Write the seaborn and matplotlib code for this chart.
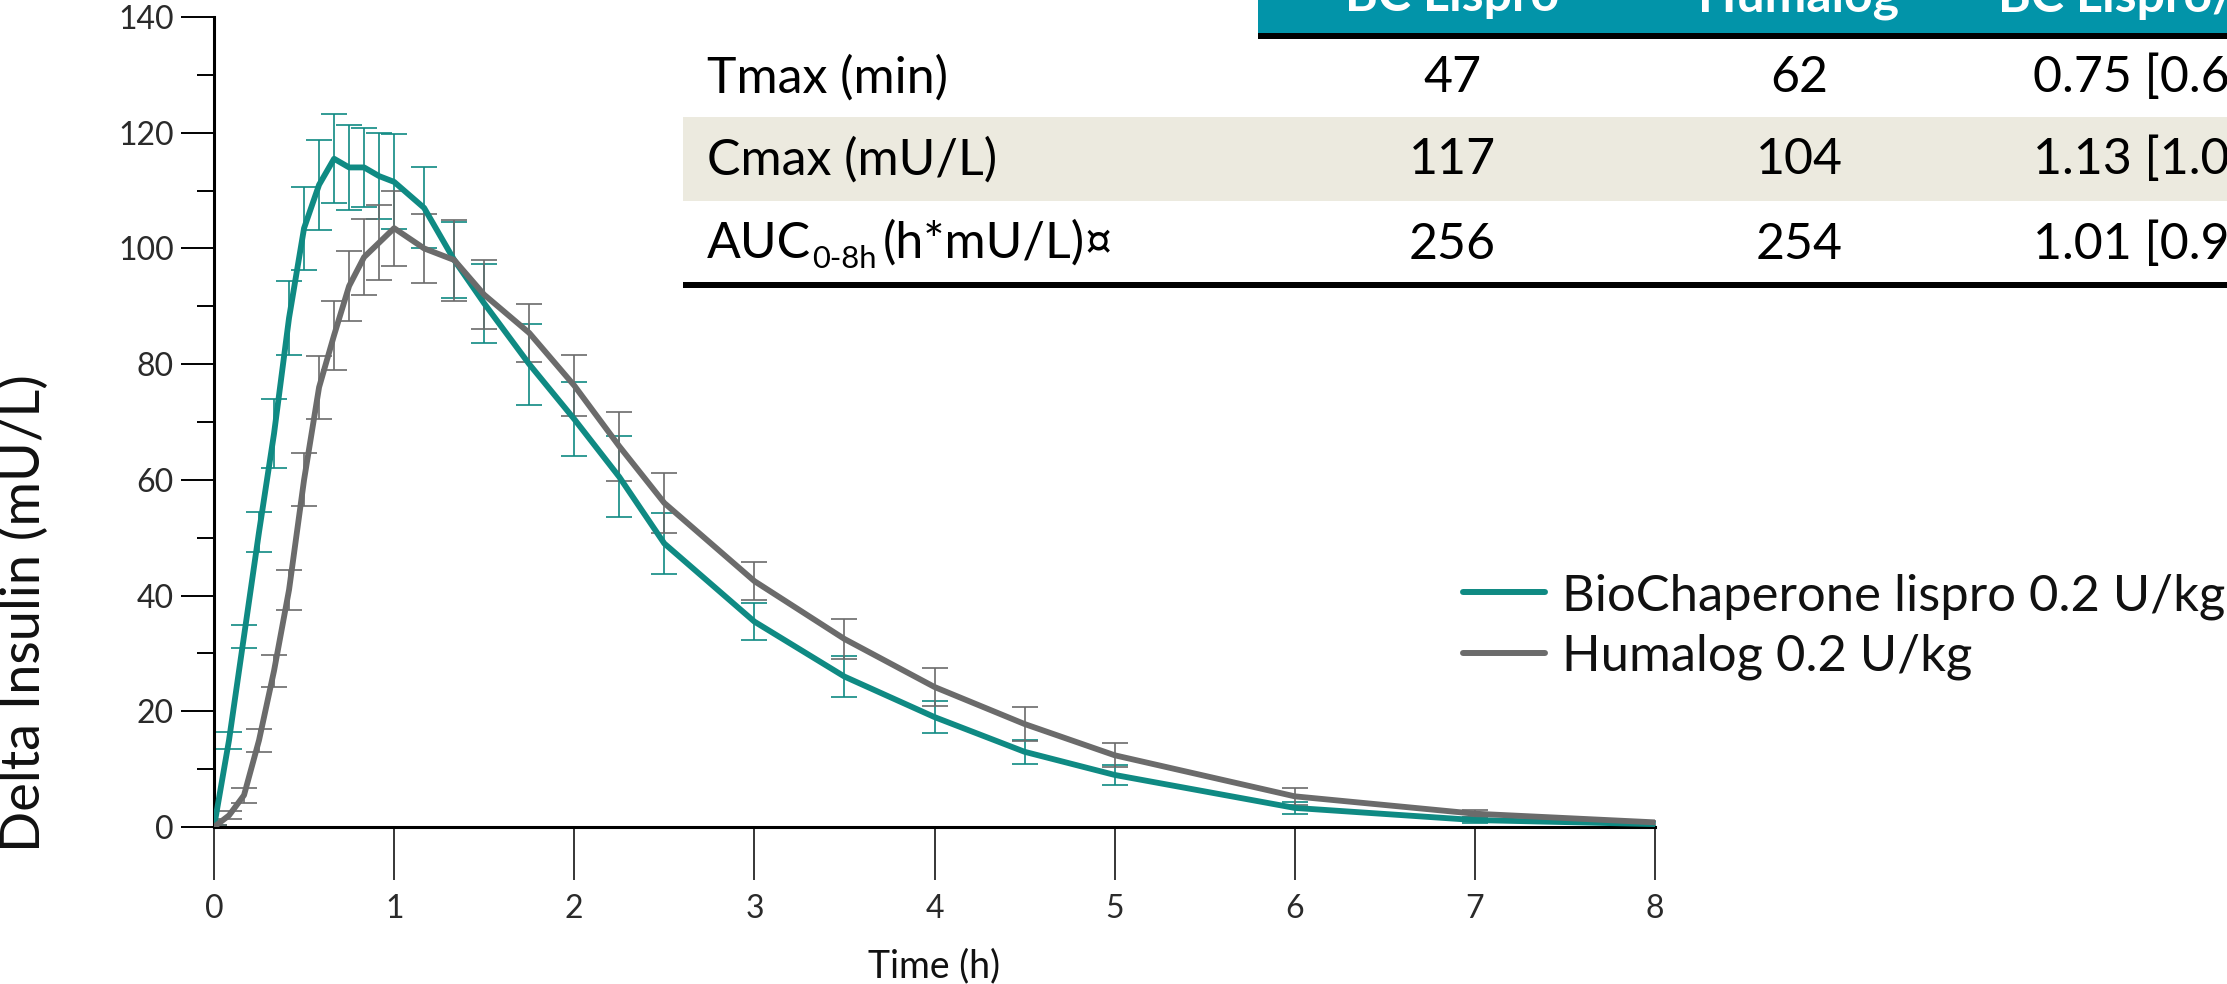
import numpy as np
import pandas as pd
import matplotlib
matplotlib.use("Agg")
import matplotlib.pyplot as plt
from matplotlib.patches import Rectangle
from matplotlib.lines import Line2D
from matplotlib.ticker import MultipleLocator
import seaborn as sns

# ---------------- data ----------------
time_min = [0, 5, 10, 15, 20, 25, 30, 35, 40, 45, 50, 55, 60, 70, 80, 90, 105,
            120, 135, 150, 180, 210, 240, 270, 300, 360, 420, 480]
bc_mean = [0, 15, 33, 51, 68, 88, 103.5, 111, 115.5, 114, 114, 112.5, 111.5, 107,
           98, 90.5, 80, 70.5, 60.5, 49, 35.5, 26, 19, 13, 9, 3.3, 1.2, 0.5]
bc_se = [0.3, 1.5, 2, 3.5, 6, 6.4, 7.2, 7.8, 7.7, 7.3, 6.9, 7.4, 8.2, 7, 6.5,
         6.8, 7, 6.4, 7, 5.2, 3.2, 3.5, 2.8, 2.1, 1.7, 1.1, 0.5, 0.3]
hum_mean = [0, 2, 5.5, 15, 27, 41, 60, 76, 85, 93.5, 98.5, 101, 103.5, 100, 98,
            92, 85.4, 76.3, 65.8, 56, 42.5, 32.5, 24.2, 17.8, 12.4, 5.3, 2.3, 0.8]
hum_se = [0.3, 0.7, 1.3, 2, 2.8, 3.5, 4.6, 5.4, 6, 6.1, 6.6, 6.5, 6.5, 6, 7, 6,
          5, 5.3, 6, 5.2, 3.3, 3.5, 3.3, 3, 2.1, 1.5, 0.6, 0.3]
series_names = ["BioChaperone lispro 0.2 U/kg", "Humalog 0.2 U/kg"]

x_ticks = [0, 1, 2, 3, 4, 5, 6, 7, 8]
y_ticks = [0, 20, 40, 60, 80, 100, 120, 140]

table_cols = ["BC Lispro", "Humalog", "BC Lispro/Humalog"]
row_labels = ["Tmax (min)", "Cmax (mU/L)", "AUC"]
bc_vals = ["47", "117", "256"]
hum_vals = ["62", "104", "254"]
ratio_vals = ["0.75 [0.69-0.81]", "1.13 [1.06-1.21]", "1.01 [0.97-1.05]"]

# ---------------- style ----------------
TEAL = "#0F8A83"
GRAY = "#6B6B6B"
HEAD = "#0294A9"
BAND = "#ECEADF"

sns.set_theme(style="white")
plt.rcParams["font.family"] = ["Lato", "DejaVu Sans"]

W, H = 2227, 984
fig = plt.figure(figsize=(W / 100, H / 100), dpi=100)
ax = fig.add_axes([214 / W, 1 - 827 / H, (1655 - 214) / W, (827 - 17) / H])

df = pd.DataFrame({
    "time": np.array(time_min * 2) / 60.0,
    "insulin": bc_mean + hum_mean,
    "se": bc_se + hum_se,
    "product": [series_names[0]] * len(time_min) + [series_names[1]] * len(time_min),
})
palette = {series_names[0]: TEAL, series_names[1]: GRAY}

for name in series_names:
    sub = df[df["product"] == name]
    ax.errorbar(sub["time"], sub["insulin"], yerr=sub["se"], fmt="none",
                ecolor=palette[name], elinewidth=1.2, capsize=9.5, capthick=1.2,
                zorder=2)

sns.lineplot(data=df, x="time", y="insulin", hue="product", hue_order=series_names,
             palette=palette, linewidth=4.2, errorbar=None, sort=False,
             legend=False, ax=ax, zorder=3)

ax.set_xlim(0, 8)
ax.set_ylim(0, 140)
ax.set_xticks(x_ticks)
ax.set_yticks(y_ticks)
ax.yaxis.set_minor_locator(MultipleLocator(10))
for s in ["top", "right"]:
    ax.spines[s].set_visible(False)
for s in ["left", "bottom"]:
    ax.spines[s].set_color("black")
    ax.spines[s].set_linewidth(2.2)
ax.tick_params(axis="x", which="major", direction="out", length=38, width=1.1,
               color="black", pad=10, labelsize=23, labelcolor="#2a2a2a", bottom=True)
ax.tick_params(axis="y", which="major", direction="out", length=24, width=1.4,
               color="black", pad=5, labelsize=23, labelcolor="#2a2a2a", left=True)
ax.tick_params(axis="y", which="minor", direction="out", length=12, width=1.4,
               color="black", left=True)
ax.grid(False)

ax.set_xlabel("Time (h)", fontsize=27, color="#111111", va="center")
ax.xaxis.set_label_coords(0.5, -0.172)
ax.set_ylabel("Delta Insulin (mU/L)", fontsize=39, color="#111111", va="center",
              ha="center")
ax.yaxis.set_label_coords(-0.132, 0.264)

handles = [Line2D([], [], color=palette[n], lw=4.3) for n in series_names]
leg = ax.legend(handles, series_names, loc="upper left",
                bbox_to_anchor=(1463 / W, 1 - 573 / H), bbox_transform=fig.transFigure,
                frameon=False, fontsize=36.5, handlelength=1.62, handletextpad=0.33,
                labelspacing=0.28, borderpad=0, borderaxespad=0)
for t in leg.get_texts():
    t.set_color("#111111")

# ---------------- table overlay ----------------
tab = fig.add_axes([0, 0, 1, 1], zorder=5)
tab.set_xlim(0, W)
tab.set_ylim(H, 0)
tab.axis("off")
tab.patch.set_alpha(0)

tab.add_patch(Rectangle((1258, -5), W - 1258 + 5, 38, color=HEAD, lw=0))
tab.add_patch(Rectangle((1258, 33), W - 1258 + 5, 6, color="black", lw=0))
tab.add_patch(Rectangle((683, 117), W - 683 + 5, 84, color=BAND, lw=0))
tab.add_patch(Rectangle((683, 282), W - 683 + 5, 6, color="black", lw=0))

FS = 36
head_x = [1452, 1799, 1998]
head_ha = ["center", "center", "left"]
for txt, hx, ha in zip(table_cols, head_x, head_ha):
    tab.text(hx, 11, txt, color="white", fontsize=FS, fontweight="bold",
             ha=ha, va="baseline")

row_y = [78, 160, 245]
for i, y in enumerate(row_y):
    if i < 2:
        tab.text(707, y, row_labels[i], fontsize=FS, color="black", ha="left",
                 va="center")
    tab.text(1452, y, bc_vals[i], fontsize=FS, color="black", ha="center", va="center")
    tab.text(1799, y, hum_vals[i], fontsize=FS, color="black", ha="center", va="center")
    tab.text(2033, y, ratio_vals[i], fontsize=FS, color="black", ha="left", va="center")

# AUC label with subscript
fig.canvas.draw()
renderer = fig.canvas.get_renderer()
base = row_y[2] + 13
t1 = tab.text(707, base, row_labels[2], fontsize=FS, color="black", ha="left",
              va="baseline")
bb = t1.get_window_extent(renderer)
t2 = tab.text(bb.x1 + 1, base + 10, "0-8h", fontsize=FS * 0.62, color="black",
              ha="left", va="baseline")
bb2 = t2.get_window_extent(renderer)
tab.text(bb2.x1 + 6, base, "(h*mU/L)¤", fontsize=FS, color="black", ha="left",
         va="baseline")

fig.savefig("out.png", dpi=100)
